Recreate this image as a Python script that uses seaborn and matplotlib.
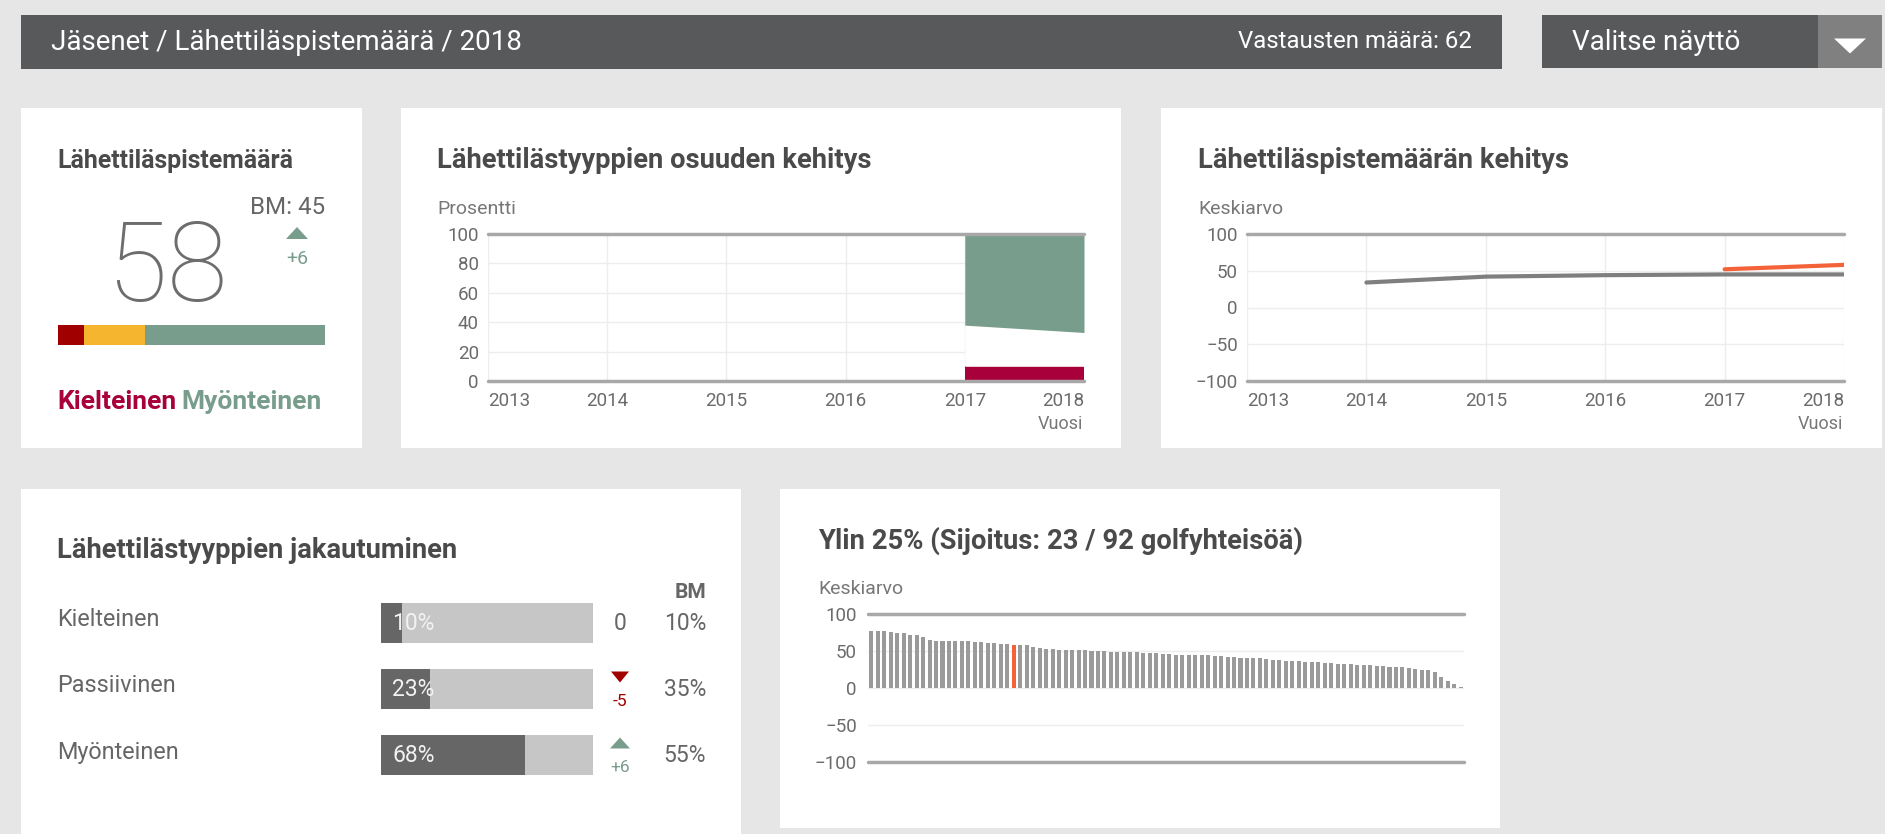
import numpy as np
import pandas as pd
import matplotlib
matplotlib.use("Agg")
import matplotlib.pyplot as plt
import seaborn as sns
from matplotlib.patches import Rectangle, Polygon

years = [2013, 2014, 2015, 2016, 2017, 2018]
share_negative = [np.nan, np.nan, np.nan, np.nan, 10, 10]
share_passive = [np.nan, np.nan, np.nan, np.nan, 28, 23]
share_positive = [np.nan, np.nan, np.nan, np.nan, 62, 68]

bm_years = [2014, 2015, 2016, 2017, 2018]
bm_score = [34, 42, 44, 45, 45]
own_years = [2017, 2018]
own_score = [52, 58]

score_now = 58
score_bm = 45
score_change = 6

types = ["Kielteinen", "Passiivinen", "Myönteinen"]
type_share = [10, 23, 68]
type_change = [0, -5, 6]
type_bm = [10, 35, 55]

club_scores = [77, 77, 77, 76, 75, 74, 72, 71, 69, 65, 64, 64, 64, 63, 63, 63, 62, 62, 61, 61, 60, 59, 58,
               58, 58, 55, 54, 53, 53, 52,
               52, 52, 51, 51, 50, 50, 50, 49, 49, 49, 48, 48, 47, 47, 47, 46, 46, 45, 45, 45, 44, 44, 44,
               43, 43, 42, 42, 41, 41, 40, 40,
               39, 38.5, 38, 37, 36.5, 36, 35.5, 35, 34.5, 34, 33.5, 33, 32.5, 32, 31.5, 31, 30.5, 30, 29.5,
               29, 28.5, 28, 27, 26, 25, 24, 21, 15, 10, 5, 1]
own_rank = 23

W, H = 1885, 834
TITLE = "#4a4a4a"
TICK = "#6b6b6b"
GRID = "#ededed"
EDGE = "#a8a8a8"
GREEN = "#799d8c"
RED = "#a8003b"
TSIZE = 19.7

sns.set_theme(style="white")
plt.rcParams["font.family"] = ["Roboto", "DejaVu Sans"]

fig = plt.figure(figsize=(W / 100, H / 100), dpi=100, facecolor="#e6e6e6")


def px_ax(x0, y0, x1, y1):
    return fig.add_axes([x0 / W, 1 - y1 / H, (x1 - x0) / W, (y1 - y0) / H])


def box(x0, y0, x1, y1, color, z=-1):
    fig.patches.append(Rectangle((x0 / W, 1 - y1 / H), (x1 - x0) / W, (y1 - y0) / H,
                                 transform=fig.transFigure, facecolor=color,
                                 edgecolor="none", zorder=z))


def txt(x, y, s, size=13, color=TICK, ha="left", va="center", **kw):
    return fig.text(x / W, 1 - y / H, s, fontsize=size, color=color, ha=ha, va=va, **kw)


def tri(x, y, w, h, up, color):
    if up:
        pts = [(x - w / 2, y + h / 2), (x + w / 2, y + h / 2), (x, y - h / 2)]
    else:
        pts = [(x - w / 2, y - h / 2), (x + w / 2, y - h / 2), (x, y + h / 2)]
    fig.patches.append(Polygon([(a / W, 1 - b / H) for a, b in pts], closed=True,
                               transform=fig.transFigure, facecolor=color,
                               edgecolor="none", zorder=2))


def style_chart(ax, lo, hi, step, pad_y=6.5):
    ax.set_facecolor("white")
    for s in ax.spines.values():
        s.set_visible(False)
    ax.set_ylim(lo, hi)
    ax.set_yticks(np.arange(lo, hi + 1, step))
    ax.yaxis.grid(True, color=GRID, lw=1)
    ax.axhline(lo, color=EDGE, lw=2.5, clip_on=False, zorder=5)
    ax.axhline(hi, color=EDGE, lw=2.5, clip_on=False, zorder=5)
    ax.tick_params(axis="y", length=0, pad=pad_y, labelsize=13.5, labelcolor=TICK)
    ax.set_xlabel("")
    ax.set_ylabel("")


def year_axis(ax):
    ax.set_xlim(2013, 2018)
    ax.set_xticks(years)
    ax.set_xticklabels([str(y) for y in years])
    ax.xaxis.grid(True, color=GRID, lw=1)
    ax.tick_params(axis="x", length=0, pad=8, labelsize=13.5, labelcolor=TICK)
    labels = ax.get_xticklabels()
    labels[0].set_ha("left")
    labels[-1].set_ha("right")


# header bars
box(21, 15, 1502, 69, "#58595b")
box(1542, 15, 1818, 68, "#58595b")
box(1818, 15, 1882, 68, "#808080")
tri(1850, 46, 32, 15, False, "white")
txt(51, 42, "Jäsenet / Lähettiläspistemäärä / 2018", size=20, color="white")
txt(1472, 42, "Vastausten määrä: 62", size=17.3, color="white", ha="right")
txt(1572, 42, "Valitse näyttö", size=20, color="white")

# cards
box(21, 108, 362, 448, "white")
box(401, 108, 1121, 448, "white")
box(1161, 108, 1882, 448, "white")
box(21, 489, 741, 834, "white")
box(780, 489, 1500, 828, "white")

# card 1: score
txt(57, 161, "Lähettiläspistemäärä", size=17.9, color=TITLE, fontweight="bold")
txt(325, 207, f"BM: {score_bm}", size=17.4, color="#666666", ha="right")
txt(167, 270, str(score_now), size=80, color="#6d6d6d", ha="center", fontweight="light")
tri(297, 233, 22, 12, True, GREEN)
txt(297, 259, f"+{score_change}", size=14, color=GREEN, ha="center")
ax1 = px_ax(57.5, 325, 325, 345)
left = 0
for v, c in zip(type_share, ["#a00000", "#f5b52e", GREEN]):
    ax1.barh([0], [v], left=[left], color=c, height=1, linewidth=0)
    left += v
ax1.set_xlim(0, sum(type_share))
ax1.set_ylim(-0.5, 0.5)
ax1.axis("off")
t_neg = txt(57, 402, "Kielteinen", size=19, color=RED, fontweight="bold")
renderer = fig.canvas.get_renderer()
x_end = t_neg.get_window_extent(renderer).x1
txt(x_end + 5, 402, "Myönteinen", size=19, color=GREEN, fontweight="bold")

# card 2: share development (stacked area)
txt(437, 161, "Lähettilästyyppien osuuden kehitys", size=TSIZE, color=TITLE, fontweight="bold")
txt(437, 209, "Prosentti", size=14, color="#777777")
ax2 = px_ax(488, 234, 1084, 381)
neg = np.array(share_negative, dtype=float)
pas = np.array(share_passive, dtype=float)
pos = np.array(share_positive, dtype=float)
ax2.fill_between(years, 0, neg, color=RED, linewidth=0, zorder=3)
ax2.fill_between(years, neg, neg + pas, color="white", linewidth=0, zorder=3)
ax2.fill_between(years, neg + pas, neg + pas + pos, color=GREEN, linewidth=0, zorder=3)
style_chart(ax2, 0, 100, 20)
year_axis(ax2)
txt(1083, 424, "Vuosi", size=13, color="#777777", ha="right")

# card 3: score development
txt(1198, 161, "Lähettiläspistemäärän kehitys", size=TSIZE, color=TITLE, fontweight="bold")
txt(1198, 209, "Keskiarvo", size=14, color="#777777")
ax3 = px_ax(1247, 234, 1844, 381)
sns.lineplot(x=bm_years, y=bm_score, color="#7f7f7f", lw=3, ax=ax3, zorder=4)
sns.lineplot(x=own_years, y=own_score, color="#f4623a", lw=3, ax=ax3, zorder=4)
style_chart(ax3, -100, 100, 50)
year_axis(ax3)
txt(1843, 424, "Vuosi", size=13, color="#777777", ha="right")

# card 4: distribution of types
txt(57, 550, "Lähettilästyyppien jakautuminen", size=TSIZE, color=TITLE, fontweight="bold")
txt(706, 592, "BM", size=15, color="#666666", ha="right", fontweight="bold")
ax4 = px_ax(381, 590, 593, 788)
sns.barplot(x=[100] * len(types), y=types, color="#c6c6c6", width=0.606, saturation=1,
            orient="h", linewidth=0, ax=ax4)
sns.barplot(x=type_share, y=types, color="#666666", width=0.606, saturation=1,
            orient="h", linewidth=0, ax=ax4)
ax4.set_xlim(0, 100)
ax4.set_ylim(2.5, -0.5)
ax4.axis("off")
for i, (name, v) in enumerate(zip(types, type_share)):
    ax4.text(5.2, i, f"{v}%", fontsize=16.5, color="#f2f2f2", ha="left", va="center")
row_y = [620, 686, 752]
bar_y = [623, 689, 755]
for name, ch, bmv, ly, by in zip(types, type_change, type_bm, row_y, bar_y):
    txt(57, ly, name, size=16.8, color="#666666")
    txt(706, by, f"{bmv}%", size=16.5, color="#666666", ha="right")
    if ch == 0:
        txt(620, by, "0", size=16.5, color="#666666", ha="center")
    elif ch < 0:
        tri(620, by - 12, 18, 11, False, "#a00000")
        txt(620, by + 13, f"{ch}", size=12.5, color="#a00000", ha="center")
    else:
        tri(620, by - 12, 20, 11, True, GREEN)
        txt(620, by + 13, f"+{ch}", size=12.5, color=GREEN, ha="center")

# card 5: ranking among clubs
txt(818, 541, "Ylin 25% (Sijoitus: 23 / 92 golfyhteisöä)", size=TSIZE, color=TITLE,
    fontweight="bold")
txt(818, 589, "Keskiarvo", size=14, color="#777777")
ax5 = px_ax(868, 614, 1464, 762)
df = pd.DataFrame({"rank": [str(r) for r in range(1, len(club_scores) + 1)],
                   "score": club_scores})
palette = {r: ("#f4623a" if int(r) == own_rank else "#9a9a9a") for r in df["rank"]}
sns.barplot(data=df, x="rank", y="score", hue="rank", palette=palette, legend=False,
            width=0.62, saturation=1, linewidth=0, ax=ax5)
ax5.set_xlim(-0.5, len(club_scores) - 0.5)
style_chart(ax5, -100, 100, 50, pad_y=8)
ax5.set_xticks([])

fig.savefig("out.png", dpi=100, facecolor=fig.get_facecolor())
